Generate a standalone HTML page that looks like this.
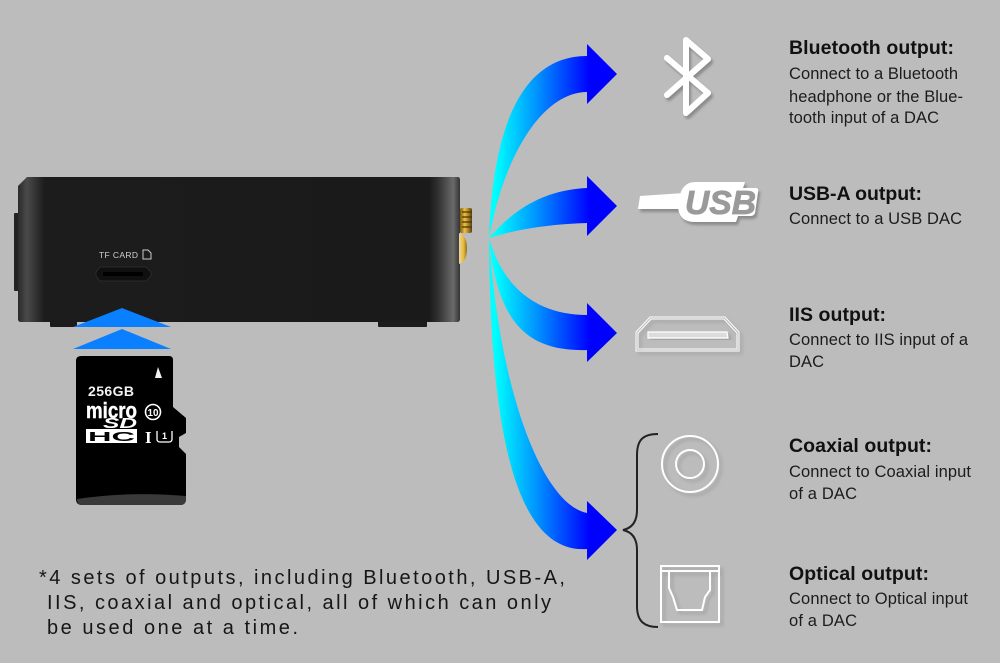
<!DOCTYPE html>
<html><head><meta charset="utf-8"><style>
html,body{margin:0;padding:0;background:#bcbcbc}
svg{display:block}
text{font-family:"Liberation Sans",sans-serif}
.t{font-size:19.5px;font-weight:bold;fill:#111}
.b{font-size:16.5px;fill:#1c1c1c}
.n{font-size:20px;fill:#161616}
</style></head><body>
<svg width="1000" height="663" viewBox="0 0 1000 663" xmlns="http://www.w3.org/2000/svg">
<defs>
<linearGradient id="g" gradientUnits="userSpaceOnUse" x1="495" y1="0" x2="590" y2="0"><stop offset="0" stop-color="#00ffff"/><stop offset=".45" stop-color="#0090ff"/><stop offset="1" stop-color="#0000ff"/></linearGradient>
<linearGradient id="body" gradientUnits="userSpaceOnUse" x1="18" x2="460" y1="0" y2="0"><stop offset="0" stop-color="#2a2a2a"/><stop offset=".02" stop-color="#4a4a4a"/><stop offset=".06" stop-color="#1c1c1c"/><stop offset=".93" stop-color="#1a1a1a"/><stop offset=".95" stop-color="#303030"/><stop offset=".985" stop-color="#6a6a6a"/><stop offset="1" stop-color="#333"/></linearGradient>
<linearGradient id="gold" x1="0" x2="1" y1="0" y2="0"><stop offset="0" stop-color="#7a5a10"/><stop offset=".4" stop-color="#f0c040"/><stop offset="1" stop-color="#5a4010"/></linearGradient>
<linearGradient id="gold2" x1="0" x2="1" y1="0" y2="0"><stop offset="0" stop-color="#e8d8a8"/><stop offset=".6" stop-color="#e8b830"/><stop offset="1" stop-color="#8a6a20"/></linearGradient>
<filter id="s" x="-20%" y="-20%" width="150%" height="150%"><feDropShadow dx="2" dy="3" stdDeviation="1.2" flood-color="#777" flood-opacity=".7"/></filter>
<filter id="s2" x="-20%" y="-20%" width="150%" height="150%"><feDropShadow dx="3" dy="3" stdDeviation="1.5" flood-color="#888" flood-opacity=".55"/></filter>
</defs>
<rect width="1000" height="663" fill="#bcbcbc"/>
<!-- device -->
<rect x="14" y="213" width="5" height="78" rx="1" fill="#222"/>
<rect x="50" y="320" width="27" height="7" rx="1" fill="#1c1c1c"/>
<rect x="378" y="320" width="49" height="7" rx="1" fill="#1c1c1c"/>
<path d="M27,177H458Q460,177 460,180V319Q460,322 457,322H21Q18,322 18,319V186Z" fill="url(#body)"/>
<rect x="460" y="208" width="12" height="25" rx="2" fill="url(#gold)"/>
<path d="M462,212h10M462,217h10M462,222h10M462,227h10" stroke="#4a3408" stroke-width="1.2"/>
<path d="M459,233Q467,236 467,248Q467,262 459,264Z" fill="url(#gold2)"/>
<text x="99" y="258" font-size="8.5" fill="#cfcfcf" textLength="39">TF CARD</text>
<path d="M143,250h5l3,3v6h-8z" fill="none" stroke="#ccc" stroke-width="1"/>
<path d="M100,267H146L151,272V276L146,281H100L96,276V272Z" fill="#101010" stroke="#333" stroke-width=".7"/>
<rect x="103" y="272" width="40" height="4" fill="#000"/>
<!-- triangles -->
<path d="M122,308L171,327H73Z" fill="#0a7fff"/>
<path d="M122,329L171,349H73Z" fill="#0a7fff"/>
<!-- card -->
<path d="M81,356H169Q173,356 173,360V407L186,418V433L179,437V447L186,454V499Q186,505 180,505H82Q76,505 76,499V361Q76,356 81,356Z" fill="#000"/>
<path d="M77,499Q130,491 186,496V499Q186,505 180,505H82Q77,505 77,499Z" fill="#3a3a3a"/>
<path d="M158,367L162,378H155Z" fill="#f2f2f2"/>
<text x="88" y="396" font-size="14" font-weight="bold" fill="#f2f2f2" textLength="46">256GB</text>
<text x="86" y="418" font-size="22" font-weight="bold" fill="#fff" stroke="#fff" stroke-width=".4" textLength="51" lengthAdjust="spacingAndGlyphs">micro</text>
<text x="103" y="428" font-size="15" font-weight="bold" font-style="italic" fill="#fff" textLength="34" lengthAdjust="spacingAndGlyphs">SD</text>
<rect x="86" y="429" width="51" height="14" fill="#fff"/>
<text x="88" y="441" font-size="13" font-weight="bold" fill="#000" textLength="47" lengthAdjust="spacingAndGlyphs">HC</text>
<circle cx="153" cy="412" r="7.5" fill="none" stroke="#fff" stroke-width="1.6"/>
<text x="147.5" y="416" font-size="10" font-weight="bold" fill="#fff" textLength="11" lengthAdjust="spacingAndGlyphs">10</text>
<text x="145" y="443" font-size="17" font-weight="bold" style="font-family:'Liberation Serif',serif" fill="#fff">I</text>
<path d="M157,431V439Q157,442 160,442H169Q172,442 172,439V431" fill="none" stroke="#fff" stroke-width="1.3"/>
<text x="162" y="439" font-size="9" font-weight="bold" fill="#fff">1</text>
<!-- arrows -->
<path d="M489,238C493,120 525,56 587,56V44L617,74L587,104V92C545,92 505,150 489,238Z" fill="url(#g)"/>
<path d="M489,238C515,208 545,190 587,188V176L617,206L587,236V223C555,224 520,228 489,238Z" fill="url(#g)"/>
<path d="M489,238C497,320 525,352 587,350V362L617,333L587,303V315C545,315 505,295 489,238Z" fill="url(#g)"/>
<path d="M489,238C490,390 505,555 587,549V560L617,530L587,501V513C545,505 500,400 489,238Z" fill="url(#g)"/>
<!-- brace -->
<path d="M658,434C645,434 637,438 637,455V510C637,522 632,528 623,530C632,532 637,538 637,550V606C637,622 645,627 658,627" fill="none" stroke="#222" stroke-width="2"/>
<!-- icons -->
<path d="M667,58L708,93L686,113V40L708,59L667,95" fill="none" stroke="#fff" stroke-width="6" stroke-linecap="round" stroke-linejoin="round" filter="url(#s)"/>
<g filter="url(#s)">
<path d="M640,196L684,193L680,209H638Z" fill="#fff"/>
<path d="M695,182H745L743,188H756Q759,188 758,192L755,213Q754,216 750,216H738L736,222H695Q678,222 678,205Q680,182 695,182Z" fill="#fff"/>
</g>
<text x="685" y="214" font-size="33" font-weight="bold" font-style="italic" fill="#9a9a9a" stroke="#9a9a9a" stroke-width=".8" textLength="71" lengthAdjust="spacingAndGlyphs">USB</text>
<g fill="none" stroke="#fff" stroke-width="1" filter="url(#s2)">
<path d="M636,332L650,317H725L739,332V351H636Z"/>
<path d="M638,333L651,319H724L737,333V349H638Z"/>
</g>
<path d="M648,332H727L728,338H648Z" fill="#dcdcdc" stroke="#fff" stroke-width="1.2" filter="url(#s2)"/>
<g fill="none" stroke="#fff" stroke-width="2" filter="url(#s2)">
<circle cx="690" cy="464" r="28"/><circle cx="690" cy="464" r="14"/>
<rect x="661" y="566" width="58" height="56"/>
<path d="M661,571H719M669,571V588L673,597L677,610H702L705,597L710,590V571"/>
</g>
<!-- right text -->
<text class="t" x="789" y="54" textLength="165">Bluetooth output:</text>
<text class="b" x="789" y="79" textLength="169">Connect to a Bluetooth</text>
<text class="b" x="789" y="102" textLength="174">headphone or the Blue-</text>
<text class="b" x="789" y="123" textLength="150">tooth input of a DAC</text>
<text class="t" x="789" y="200" textLength="133">USB-A output:</text>
<text class="b" x="789" y="224" textLength="173">Connect to a USB DAC</text>
<text class="t" x="789" y="321" textLength="97">IIS output:</text>
<text class="b" x="789" y="345" textLength="179">Connect to IIS input of a</text>
<text class="b" x="789" y="367" textLength="35">DAC</text>
<text class="t" x="789" y="452" textLength="143">Coaxial output:</text>
<text class="b" x="789" y="477" textLength="182">Connect to Coaxial input</text>
<text class="b" x="789" y="499" textLength="68">of a DAC</text>
<text class="t" x="789" y="580" textLength="140">Optical output:</text>
<text class="b" x="789" y="604" textLength="179">Connect to Optical input</text>
<text class="b" x="789" y="626" textLength="68">of a DAC</text>
<!-- note -->
<text class="n" x="39" y="584" textLength="526">*4 sets of outputs, including Bluetooth, USB-A,</text>
<text class="n" x="47" y="609" textLength="504">IIS, coaxial and optical, all of which can only</text>
<text class="n" x="47" y="634" textLength="251">be used one at a time.</text>
</svg>
</body></html>
